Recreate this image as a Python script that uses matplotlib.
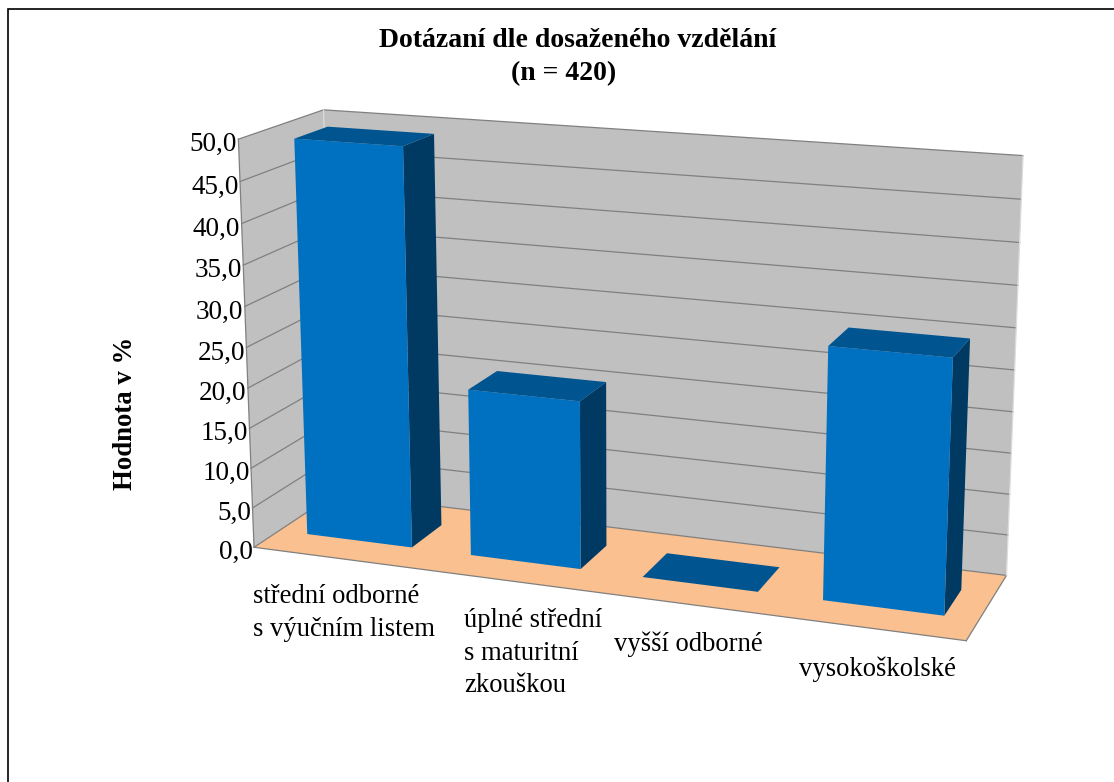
import numpy as np
import matplotlib
matplotlib.use("Agg")
import matplotlib.pyplot as plt
from matplotlib.patches import Polygon

categories = ["střední odborné\ns výučním listem", "úplné střední\ns maturitní\nzkouškou",
              "vyšší odborné", "vysokoškolské"]
values = [49.2, 20.6, 0.0, 30.0]
ticks = [0, 5, 10, 15, 20, 25, 30, 35, 40, 45, 50]
tick_labels = ["0,0", "5,0", "10,0", "15,0", "20,0", "25,0", "30,0", "35,0", "40,0", "45,0", "50,0"]
title_text = "Dotázaní dle dosaženého vzdělání\n(n = 420)"
ylabel_text = "Hodnota v %"

# ---- styling / layout
FONT = "Liberation Serif"
C_WALL, C_FLOOR = "#C0C0C0", "#FAC08F"
C_FRONT, C_SIDE, C_TOP = "#0070C0", "#003A63", "#005490"
C_EDGE = "#808080"
BAR_LO, BAR_HI = 0.175, 0.82     # bar extent inside a category slot
DEPTH_LO, DEPTH_HI = 0.30, 0.70  # bar extent along the depth
label_pos = [(253, 603), (464, 627), (614, 651), (799, 676)]
LINE_STEP = 32.5

# camera: world (u across, v depth, w height as 0..1) -> pixels, fitted to the frame
cam_world = np.array([(0, 0, 0), (0, 0, 1), (0, 1, 1), (0, 1, 0), (1, 1, 0), (1, 1, 1), (1, 0, 0),
                      (0, 0, .1), (0, 0, .9), (0, 0, .8), (1, 1, .9), (1, 1, .1)], float)
cam_px = np.array([(254, 546.7), (238.3, 139), (323.3, 110), (335, 494), (1006.7, 575.7), (1023, 156),
                   (966, 641.3), (252.5, 508.3), (240, 181), (242, 224), (1021.5, 199), (1008, 534)], float)
A, b = [], []
for (u, v, w), (px, py) in zip(cam_world, cam_px):
    A.append([u, v, w, 1, 0, 0, 0, 0, -px * u, -px * v, -px * w]); b.append(px)
    A.append([0, 0, 0, 0, u, v, w, 1, -py * u, -py * v, -py * w]); b.append(py)
sol = np.linalg.lstsq(np.array(A), np.array(b), rcond=None)[0]
P = np.append(sol, 1).reshape(3, 4)


def proj(u, v, val):
    h = P @ np.array([u, v, val / 50.0, 1.0])
    return h[0] / h[2], h[1] / h[2]


fig = plt.figure(figsize=(11.14, 7.82), dpi=100, facecolor="white")
ax = fig.add_axes([0, 0, 1, 1])
ax.set_xlim(0, 1114)
ax.set_ylim(782, 0)
ax.axis("off")


def quad(pts, color, z=2, edge="none", lw=0):
    ax.add_patch(Polygon([proj(*p) for p in pts], closed=True, facecolor=color, edgecolor=edge, linewidth=lw, zorder=z))


# frame of the chart object
ax.plot([7.5, 7.5, 1114], [782, 9, 9], color="black", lw=1.2, solid_joinstyle="miter", zorder=1)

# walls and floor
quad([(0, 1, 0), (1, 1, 0), (1, 1, 50), (0, 1, 50)], C_WALL)
quad([(0, 0, 0), (0, 1, 0), (0, 1, 50), (0, 0, 50)], C_WALL)
quad([(0, 0, 0), (1, 0, 0), (1, 1, 0), (0, 1, 0)], C_FLOOR)

for t, lab in zip(ticks, tick_labels):
    p0, p1, p2 = proj(0, 0, t), proj(0, 1, t), proj(1, 1, t)
    ax.plot([p0[0], p1[0], p2[0]], [p0[1], p1[1], p2[1]], color=C_EDGE, lw=0.9, zorder=3, solid_joinstyle="miter")
    ax.text(p0[0] - 1.5, p0[1] + 12, lab, ha="right", va="baseline", fontsize=19.5, family=FONT, color="black", zorder=6)

# remaining frame edges
for a, c in [((0, 0, 0), (1, 0, 0)), ((1, 0, 0), (1, 1, 0)), ((0, 0, 0), (0, 0, 50))]:
    pa, pc = proj(*a), proj(*c)
    ax.plot([pa[0], pc[0]], [pa[1], pc[1]], color=C_EDGE, lw=0.9, zorder=3)
for a, c in [((0, 1, 0), (0, 1, 50)), ((1, 1, 0), (1, 1, 50))]:
    pa, pc = proj(*a), proj(*c)
    ax.plot([pa[0], pc[0]], [pa[1], pc[1]], color="#DCDCDC", lw=0.9, zorder=3)

# bars
for i, val in enumerate(values):
    u0, u1 = (i + BAR_LO) / 4, (i + BAR_HI) / 4
    v0, v1 = DEPTH_LO, DEPTH_HI
    if val > 0:
        quad([(u1, v0, 0), (u1, v1, 0), (u1, v1, val), (u1, v0, val)], C_SIDE, z=4)
        quad([(u0, v0, 0), (u1, v0, 0), (u1, v0, val), (u0, v0, val)], C_FRONT, z=4)
    quad([(u0, v0, val), (u1, v0, val), (u1, v1, val), (u0, v1, val)], C_TOP, z=4)

# texts
for lab, (x, y) in zip(categories, label_pos):
    for k, line in enumerate(lab.split("\n")):
        ax.text(x, y + LINE_STEP * k, line, ha="left", va="baseline", fontsize=19.2, family=FONT, color="black", zorder=6)
lines = title_text.split("\n")
ax.text(578, 47, lines[0], ha="center", va="baseline", fontsize=20, fontweight="bold", family=FONT)
ax.text(563.5, 80, lines[1], ha="center", va="baseline", fontsize=20, fontweight="bold", family=FONT)
ax.text(125.5, 413, ylabel_text, rotation=90, ha="center", va="center", fontsize=19.3, fontweight="bold", family=FONT)

fig.savefig("out.png", dpi=100, facecolor="white")
